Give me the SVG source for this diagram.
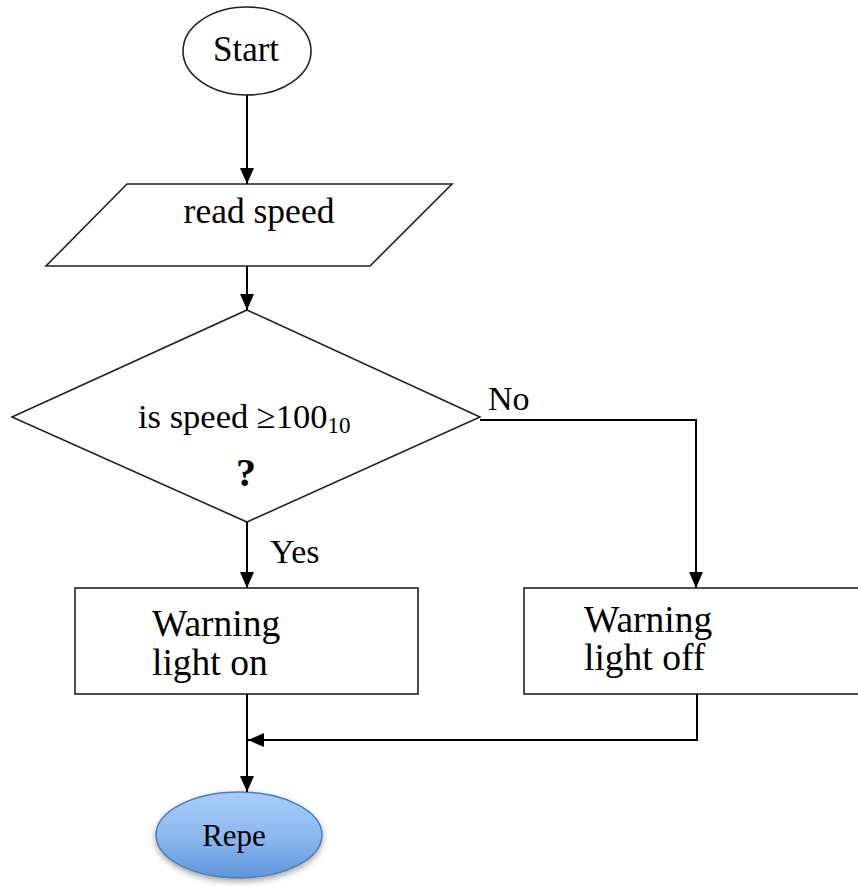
<svg xmlns="http://www.w3.org/2000/svg" width="858" height="886" viewBox="0 0 858 886">
<style>
.shape{fill:#fff;stroke:#222;stroke-width:1.6}
.conn{fill:none;stroke:#000;stroke-width:2}
text{font-family:"Liberation Serif","Times New Roman",serif;fill:#000}
</style>
<defs>
<marker id="ah" markerUnits="userSpaceOnUse" markerWidth="16" markerHeight="14" refX="16" refY="7" orient="auto">
<path d="M0,0 L16,7 L0,14 z" fill="#000"/>
</marker>
<linearGradient id="blue" x1="0" y1="0" x2="0" y2="1">
<stop offset="0" stop-color="#a9ccf8"/>
<stop offset="0.5" stop-color="#8db9f0"/>
<stop offset="1" stop-color="#5f95dc"/>
</linearGradient>
<filter id="sh" x="-20%" y="-20%" width="140%" height="150%">
<feGaussianBlur in="SourceAlpha" stdDeviation="3"/>
<feOffset dx="0" dy="3" result="b"/>
<feComponentTransfer><feFuncA type="linear" slope="0.35"/></feComponentTransfer>
<feMerge><feMergeNode/><feMergeNode in="SourceGraphic"/></feMerge>
</filter>
</defs>
<g id="start">
<ellipse class="shape" cx="247" cy="51" rx="64" ry="44"/>
<text x="246" y="61" font-size="35" text-anchor="middle">Start</text>
</g>
<g id="read">
<polygon class="shape" points="127,184 452,184 370,266 46,266"/>
<text x="259" y="223" font-size="35.5" text-anchor="middle">read speed</text>
</g>
<g id="decision">
<polygon class="shape" points="247,310 480,417 247,522 12,417"/>
<text x="138" y="428" font-size="34.5">is speed ≥100<tspan font-size="23" dy="5">10</tspan></text>
<text x="246" y="486" font-size="40" font-weight="bold" text-anchor="middle">?</text>
</g>
<g id="on">
<rect class="shape" x="75" y="588" width="343" height="106"/>
<text x="152" y="636" font-size="37.5">Warning</text>
<text x="152" y="675" font-size="37.5">light on</text>
</g>
<g id="off">
<rect class="shape" x="524" y="588" width="350" height="106"/>
<text x="584" y="632" font-size="37.5">Warning</text>
<text x="584" y="670" font-size="37.5">light off</text>
</g>
<g id="repe">
<ellipse cx="239" cy="835" rx="83" ry="43" fill="url(#blue)" stroke="#4a7ebb" stroke-width="1.5" filter="url(#sh)"/>
<text x="234" y="846" font-size="31" text-anchor="middle">Repe</text>
</g>
<g id="connectors">
<line class="conn" x1="247" y1="95" x2="247" y2="184" marker-end="url(#ah)"/>
<line class="conn" x1="247" y1="266" x2="247" y2="310" marker-end="url(#ah)"/>
<line class="conn" x1="247" y1="522" x2="247" y2="588" marker-end="url(#ah)"/>
<polyline class="conn" points="480,420 696,420 696,588" marker-end="url(#ah)"/>
<line class="conn" x1="247" y1="694" x2="247" y2="792" marker-end="url(#ah)"/>
<polyline class="conn" points="697,694 697,740 248,740" marker-end="url(#ah)"/>
<text x="488" y="410" font-size="34">No</text>
<text x="270" y="563" font-size="34">Yes</text>
</g>
</svg>
